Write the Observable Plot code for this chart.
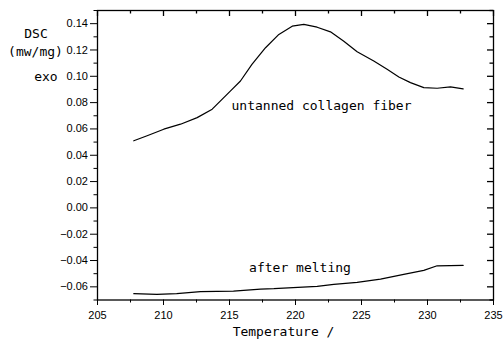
<!DOCTYPE html>
<html>
<head>
<meta charset="utf-8">
<script src="https://cdn.jsdelivr.net/npm/d3@7"></script>
<script src="https://cdn.jsdelivr.net/npm/@observablehq/plot@0.6"></script>
<style>
  body { margin: 0; background: #fff; }
  #chart svg { display: block; }
</style>
</head>
<body>
<div id="chart"></div>
<script>
// Upper curve: untanned collagen fiber
const upperT = [207.75, 208.76, 210.02, 211.29, 212.55, 213.69, 215.08, 215.83, 216.7, 217.73, 218.74, 219.75, 220.63, 221.64, 222.65, 223.66, 224.67, 225.93, 226.94, 227.83, 228.71, 229.72, 230.73, 231.74, 232.70];
const upperV = [0.051, 0.0548, 0.0598, 0.0636, 0.0686, 0.075, 0.0889, 0.0964, 0.109, 0.1217, 0.1318, 0.1381, 0.1394, 0.1373, 0.1338, 0.1267, 0.1186, 0.1116, 0.1053, 0.0995, 0.0952, 0.0914, 0.0909, 0.0919, 0.0904];
// Lower curve: after melting
const lowerT = [207.75, 209.5, 211.0, 212.8, 215.3, 217.35, 218.36, 221.64, 222.9, 224.67, 226.44, 228.2, 229.72, 230.73, 232.7];
const lowerV = [-0.0652, -0.0657, -0.0652, -0.0636, -0.0632, -0.0617, -0.0614, -0.0596, -0.0581, -0.0566, -0.0541, -0.0505, -0.0475, -0.0440, -0.0437];

const xMajor = [205, 210, 215, 220, 225, 230, 235];
const xMinor = [207.5, 212.5, 217.5, 222.5, 227.5, 232.5];
const yMajor = [-0.06, -0.04, -0.02, 0.00, 0.02, 0.04, 0.06, 0.08, 0.10, 0.12, 0.14];
const yMinor = [-0.07, -0.05, -0.03, -0.01, 0.01, 0.03, 0.05, 0.07, 0.09, 0.11, 0.13, 0.15];

const curveLabels = ["untanned collagen fiber", "after melting"];
const curveLabelT = [221.97, 220.34];
const curveLabelV = [0.0775, -0.0456];

const upper = upperT.map((t, i) => ({t, v: upperV[i]}));
const lower = lowerT.map((t, i) => ({t, v: lowerV[i]}));
const labels = curveLabels.map((text, i) => ({text, t: curveLabelT[i], v: curveLabelV[i]}));

const mono = "DejaVu Sans Mono, monospace";
const blank = () => "";

const W = 504, H = 347, ML = 97, MR = 11, MT = 10, MB = 47.5;
const plotW = W - ML - MR, plotH = H - MT - MB;

const chart = Plot.plot({
  width: W,
  height: H,
  marginLeft: ML,
  marginRight: MR,
  marginTop: MT,
  marginBottom: MB,
  style: {fontFamily: "Liberation Sans, Arial, sans-serif", fontSize: "11px", color: "#000", background: "#fff"},
  x: {domain: [205, 235]},
  y: {domain: [-0.07, 0.15]},
  marks: [
    Plot.frame({stroke: "#000", strokeWidth: 1.3}),
    Plot.axisX({ticks: xMajor, tickSize: 5.5, tickPadding: 6, tickFormat: "d", label: null, fontSize: 11}),
    Plot.axisX({ticks: xMinor, tickSize: 3, tickFormat: blank, label: null}),
    // inward ticks on the top edge
    Plot.tickX(xMajor, {x: d => d, insetBottom: plotH - 6, stroke: "#000", strokeWidth: 1.3}),
    Plot.tickX(xMinor, {x: d => d, insetBottom: plotH - 3.5, stroke: "#000", strokeWidth: 1.3}),
    Plot.axisY({ticks: yMajor, tickSize: 7, tickPadding: 2.5, tickFormat: ".2f", label: null, fontSize: 11}),
    Plot.axisY({ticks: yMinor, tickSize: 3.5, tickFormat: blank, label: null}),
    // inward ticks on the right edge
    Plot.tickY(yMajor, {y: d => d, insetLeft: plotW - 6, stroke: "#000", strokeWidth: 1.3}),
    Plot.tickY(yMinor, {y: d => d, insetLeft: plotW - 3.5, stroke: "#000", strokeWidth: 1.3}),
    Plot.line(upper, {x: "t", y: "v", stroke: "#000", strokeWidth: 1.2}),
    Plot.line(lower, {x: "t", y: "v", stroke: "#000", strokeWidth: 1.2}),
    Plot.text(labels, {x: "t", y: "v", text: "text", fontFamily: mono, fontSize: 13, fill: "#000"}),
    Plot.text(["DSC"], {frameAnchor: "top-left", textAnchor: "middle", dx: -61.5, dy: 18.5, fontFamily: mono, fontSize: 13, fill: "#000"}),
    Plot.text(["(mw/mg)"], {frameAnchor: "top-left", textAnchor: "middle", dx: -62, dy: 36.3, fontFamily: mono, fontSize: 13, fill: "#000"}),
    Plot.text(["exo"], {frameAnchor: "top-left", textAnchor: "middle", dx: -51.6, dy: 60.8, fontFamily: mono, fontSize: 13, fill: "#000"}),
    Plot.text(["Temperature /"], {frameAnchor: "bottom", dx: -12, dy: 35.6, fontFamily: mono, fontSize: 13, fill: "#000"})
  ]
});
document.getElementById("chart").appendChild(chart);
</script>
</body>
</html>
